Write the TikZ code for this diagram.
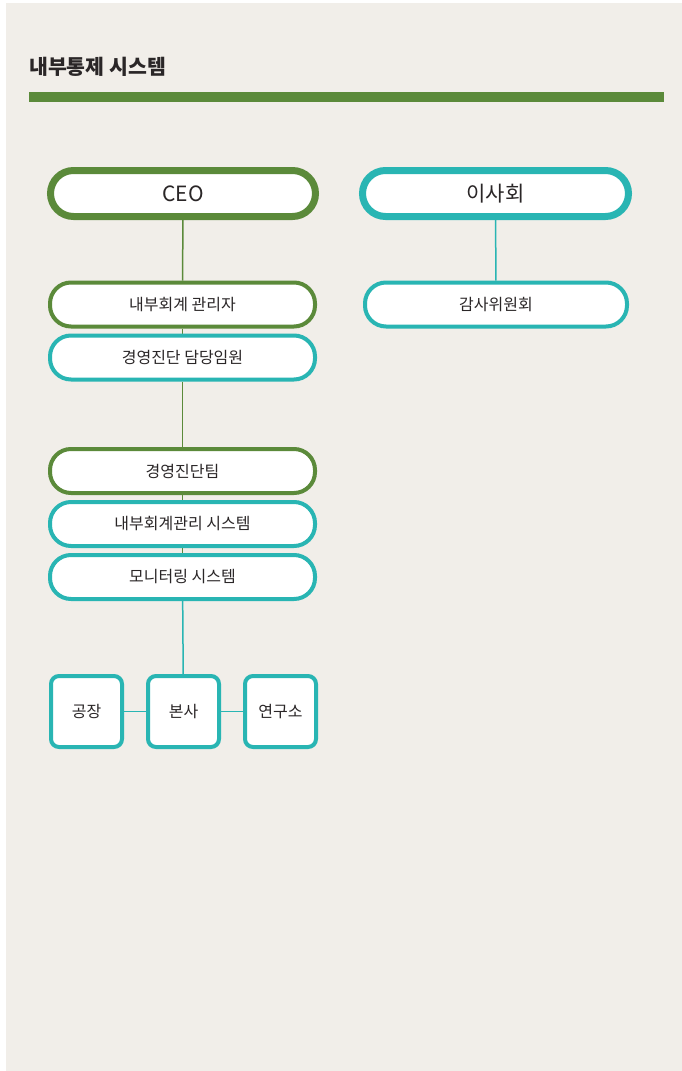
\documentclass[tikz,border=0pt]{standalone}
\usepackage{fontspec}
\newfontfamily\kr{Noto Sans CJK KR}
\usetikzlibrary{backgrounds}
\definecolor{leaf}{HTML}{5B8A3A}
\definecolor{sea}{HTML}{29B5B3}
\definecolor{paper}{HTML}{F1EEE9}
\definecolor{ink}{HTML}{2A2627}
\begin{document}
\begin{tikzpicture}[x=1pt,y=-1pt]
    % Define styles for shapes
    \tikzstyle{pill} = [draw, fill=white, line width=4pt, minimum width=265pt, minimum height=44pt, rounded corners=21pt, inner sep=0pt, text=ink, font=\kr\fontsize{16}{16}\selectfont]
    \tikzstyle{bigpill} = [pill, line width=7pt, minimum height=46pt, rounded corners=23pt, font=\kr\fontsize{21}{21}\selectfont]
    \tikzstyle{site} = [draw=sea, fill=white, line width=4pt, minimum width=71pt, minimum height=71pt, rounded corners=8pt, inner sep=0pt, text=ink, font=\kr\fontsize{16}{16}\selectfont]
    \tikzstyle{link} = [line width=1.5pt]

    \useasboundingbox (0,0) rectangle (682,1071);

    % Title and bar
    \node[anchor=west, inner sep=0pt, text=ink, font=\kr\bfseries\fontsize{20.5}{20.5}\selectfont] (title) at (29,67) {내부통제 시스템};
    \fill[leaf] (29,92) rectangle (664,102);

    % Left column
    \node[bigpill, draw=leaf] (ceo) at (183,193.5) {CEO};
    \node[pill, draw=leaf] (manager) at (182.5,304.5) {내부회계 관리자};
    \node[pill, draw=sea] (officer) at (182.5,357.5) {경영진단 담당임원};
    \node[pill, draw=leaf] (team) at (182.5,471) {경영진단팀};
    \node[pill, draw=sea] (icfr) at (182.5,524) {내부회계관리 시스템};
    \node[pill, draw=sea] (monitor) at (182.5,577) {모니터링 시스템};

    % Sites
    \node[site] (plant) at (86.5,711.5) {공장};
    \node[site] (hq) at (183.5,711.5) {본사};
    \node[site] (lab) at (280.5,711.5) {연구소};

    % Right column
    \node[bigpill, draw=sea, minimum width=266pt] (board) at (495.5,193.5) {이사회};
    \node[pill, draw=sea, minimum width=262pt] (audit) at (496,304.5) {감사위원회};

    % Connectors behind the boxes
    \begin{pgfonlayer}{background}
        \fill[paper] (6,3) rectangle (682,1071);
        \draw[link, leaf] (ceo) -- (manager);
        \draw[link, leaf] (manager) -- (officer);
        \draw[link, leaf] (officer) -- (team);
        \draw[link, leaf] (team) -- (icfr);
        \draw[link, leaf] (icfr) -- (monitor);
        \draw[link, sea] (monitor) -- (hq);
        \draw[link, sea] (plant) -- (hq);
        \draw[link, sea] (hq) -- (lab);
        \draw[link, sea] (board) -- (audit);
    \end{pgfonlayer}
\end{tikzpicture}
\end{document}
